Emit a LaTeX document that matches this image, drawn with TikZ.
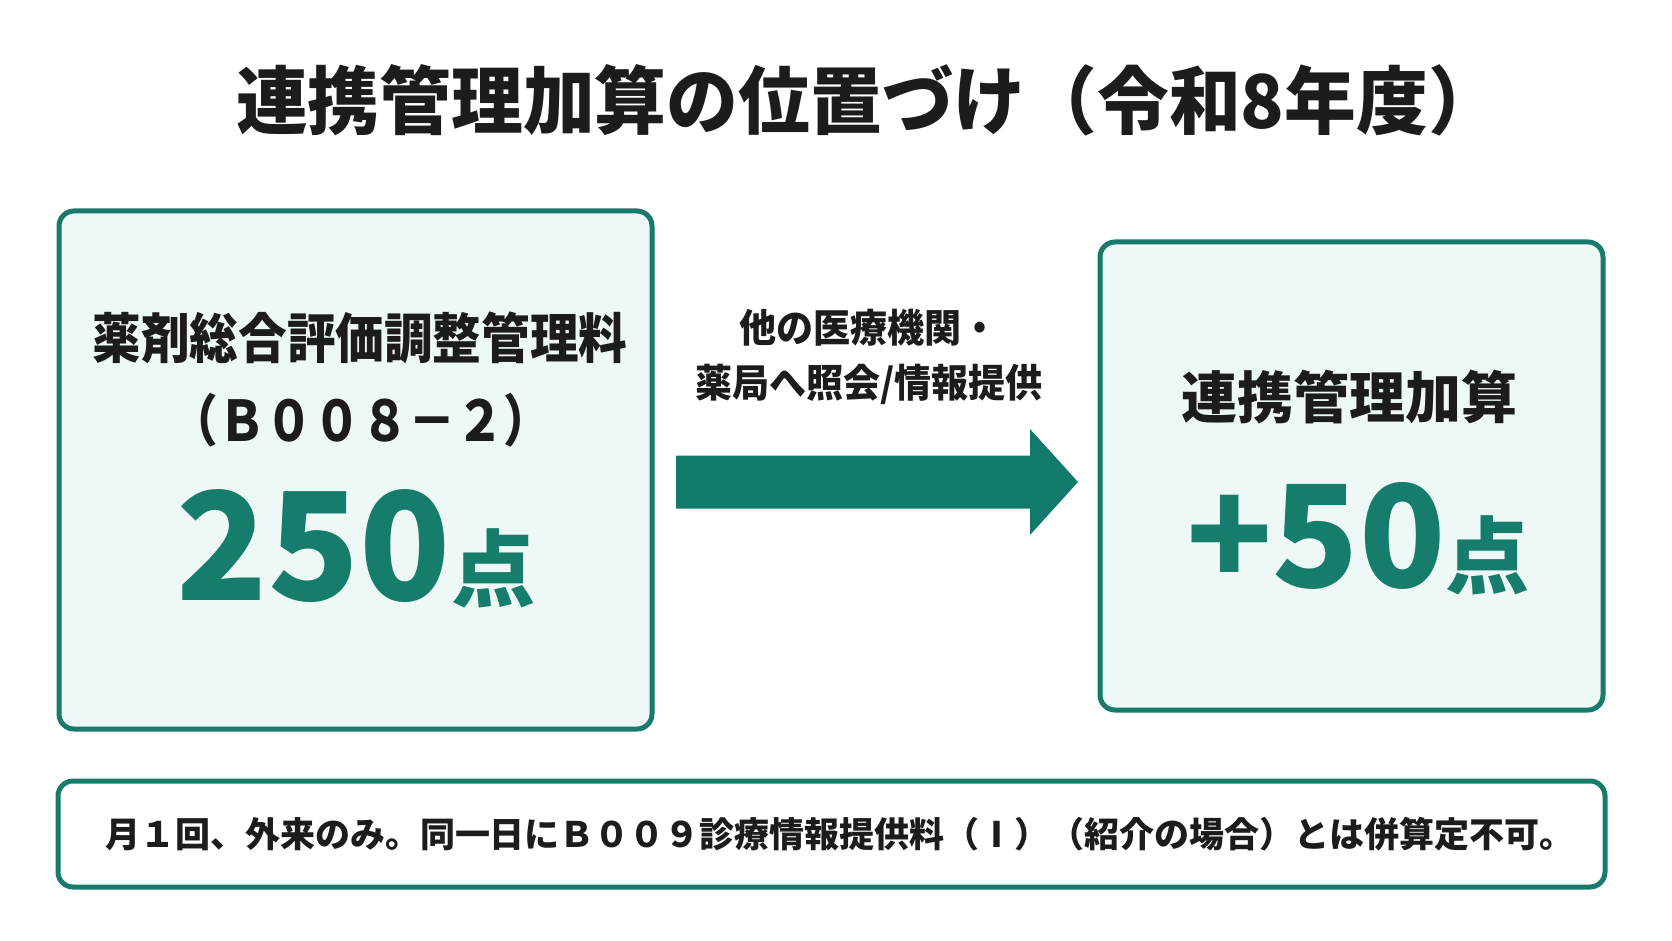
\documentclass[tikz,border=0pt]{standalone}
\usepackage{fontspec}
\newfontfamily\jp{Noto Sans CJK JP}
\newfontfamily\jpt[FakeStretch=0.97]{Noto Sans CJK JP}
\newfontfamily\jpn[FakeStretch=0.9]{Noto Sans CJK JP}
\newfontfamily\jpc[FakeStretch=0.85]{Noto Sans CJK JP}
\newfontfamily\jpa[FakeStretch=0.95]{Noto Sans CJK JP}
\definecolor{tealline}{HTML}{177A6C}
\definecolor{tealfill}{HTML}{117A6A}
\definecolor{tealtext}{HTML}{167D6D}
\definecolor{cardfill}{HTML}{EEF8F7}
\definecolor{ink}{HTML}{1C1C1C}
\begin{document}
\begin{tikzpicture}[x=0.5pt,y=-0.5pt,
  card/.style={draw=tealline, line width=2.5pt, rounded corners=7.5pt, fill=cardfill, inner sep=0pt},
  txt/.style={inner sep=0pt, text=ink, font=\jp\bfseries},
  big/.style={inner sep=0pt, text=tealtext, font=\jp\bfseries, anchor=base}]
\useasboundingbox[fill=white] (0,0) rectangle (1672,941);
% boxes
\node[card, minimum width=296.5pt, minimum height=259pt] (left) at (355.5,470) {};
\node[card, minimum width=251.5pt, minimum height=234pt] (right) at (1351.5,476) {};
\node[card, fill=white, minimum width=773.5pt, minimum height=53pt] (note) at (831.5,834) {};
% title
\node[txt, font=\jpt\bfseries\fontsize{37}{40}\selectfont] (title) at (868,100) {連携管理加算の位置づけ（令和8年度）};
% left box texts
\node[txt, font=\jpn\bfseries\fontsize{27}{30}\selectfont] (lname) at (360,338) {薬剤総合評価調整管理料};
\node[txt, font=\jpc\bfseries\fontsize{28}{30}\selectfont] (lcode) at (361,420) {（Ｂ００８－２）};
\node[big] (lpts) at (356,600) {{\fontsize{75}{75}\selectfont 250}{\fontsize{42}{42}\selectfont 点}};
% right box texts
\node[txt, font=\jp\bfseries\fontsize{28}{30}\selectfont] (rname) at (1349,397) {連携管理加算};
\node[big] (rpts) at (1358,587) {{\fontsize{71}{71}\selectfont +50}{\fontsize{42}{42}\selectfont 点}};
% arrow
\coordinate (as) at (676,482);
\coordinate (at) at (1078,482);
\fill[tealfill] ([yshift=13.25pt]as) -- ([xshift=-24pt,yshift=13.25pt]at) -- ([xshift=-24pt,yshift=26.5pt]at) -- (at)
  -- ([xshift=-24pt,yshift=-26.5pt]at) -- ([xshift=-24pt,yshift=-13.25pt]at) -- ([yshift=-13.25pt]as) -- cycle;
\node[txt, font=\jpa\bfseries\fontsize{19.5}{27.5}\selectfont, align=center] (alabel) at (869,357) {他の医療機関・\\薬局へ照会/情報提供};
% note
\node[txt, font=\jp\bfseries\fontsize{17.5}{20}\selectfont] (ntext) at (840,834) {月１回、外来のみ。同一日にＢ００９診療情報提供料（Ⅰ）（紹介の場合）とは併算定不可。};
\end{tikzpicture}
\end{document}
